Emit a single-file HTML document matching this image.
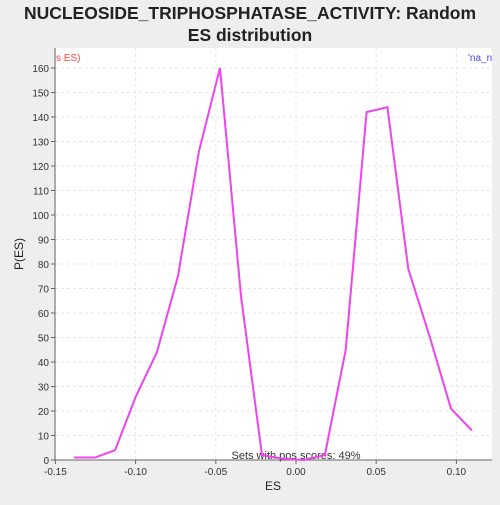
<!DOCTYPE html>
<html><head><meta charset="utf-8"><style>
body{margin:0;background:#eeeeee;font-family:"Liberation Sans",sans-serif}
</style></head><body>
<svg width="500" height="500" xmlns="http://www.w3.org/2000/svg">
<rect width="500" height="500" fill="#eeeeee"/>
<text x="250" y="19" text-anchor="middle" font-size="17.5" font-weight="bold" fill="#222">NUCLEOSIDE_TRIPHOSPHATASE_ACTIVITY: Random</text>
<text x="250" y="41" text-anchor="middle" font-size="17.5" font-weight="bold" fill="#222">ES distribution</text>
<rect x="55" y="48" width="437" height="412" fill="#fff"/>
<g id="grid"></g><g id="axes"></g>
<text x="56" y="61" font-size="10" fill="#f44">s ES)</text>
<text x="468" y="61" font-size="10" fill="#44f">'na_n</text>
<text x="296" y="459" text-anchor="middle" font-size="11" fill="#333">Sets with pos scores: 49%</text>
<text x="273" y="490" text-anchor="middle" font-size="12" fill="#222">ES</text>
<text x="23" y="254" text-anchor="middle" font-size="12" fill="#222" transform="rotate(-90 23 254)">P(ES)</text>
<polyline id="line" fill="none" stroke="#ee44ee" stroke-width="2"/>
</svg>
<script>
const esValues=[-0.1384,-0.1253,-0.1128,-0.0998,-0.0867,-0.0736,-0.0605,-0.0474,-0.0343,-0.0212,-0.0081,0.005,0.018,0.031,0.044,0.057,0.070,0.0835,0.0966,0.1097];
const pValues=[1,1,4,26,44,75,126,160,67,2,0.5,0,2,45,142,144,78,50,21,12];
const xTicks=[-0.15,-0.10,-0.05,0.00,0.05,0.10];
const xTickLabels=["-0.15","-0.10","-0.05","0.00","0.05","0.10"];
const yTicks=[0,10,20,30,40,50,60,70,80,90,100,110,120,130,140,150,160];
const NS="http://www.w3.org/2000/svg";
const X=v=>296+v*1604, Y=v=>460-v*2.45;
const grid=document.getElementById('grid'), axes=document.getElementById('axes');
function mk(tag,attrs,parent){const e=document.createElementNS(NS,tag);for(const k in attrs)e.setAttribute(k,attrs[k]);parent.appendChild(e);return e;}
yTicks.forEach(t=>{
 const g=mk('line',{x1:55,x2:492,y1:Y(t),y2:Y(t),stroke:'#e6e6e6','stroke-dasharray':'3,3'},grid);
 
 
 mk('line',{x1:51,x2:55,y1:Y(t),y2:Y(t),stroke:'#666'},axes);
 const tx=mk('text',{x:49,y:Y(t)+4,'text-anchor':'end','font-size':10,fill:'#333'},axes);
 tx.textContent=t;
 
 
});
xTicks.forEach((t,i)=>{
 const g=mk('line',{x1:X(t),x2:X(t),y1:48,y2:460,stroke:'#e6e6e6','stroke-dasharray':'3,3'},grid);
 
 
 mk('line',{x1:X(t),x2:X(t),y1:460,y2:464,stroke:'#666'},axes);
 const tx=mk('text',{x:X(t),y:475,'text-anchor':'middle','font-size':10,fill:'#333'},axes);
 tx.textContent=xTickLabels[i];
 
 
});
mk('line',{x1:55,x2:55,y1:48,y2:460,stroke:'#666'},axes);
mk('line',{x1:55,x2:492,y1:460,y2:460,stroke:'#666'},axes);
document.getElementById('line').setAttribute('points',esValues.map((v,i)=>X(v)+','+Y(pValues[i])).join(' '));
</script>
</body></html>
